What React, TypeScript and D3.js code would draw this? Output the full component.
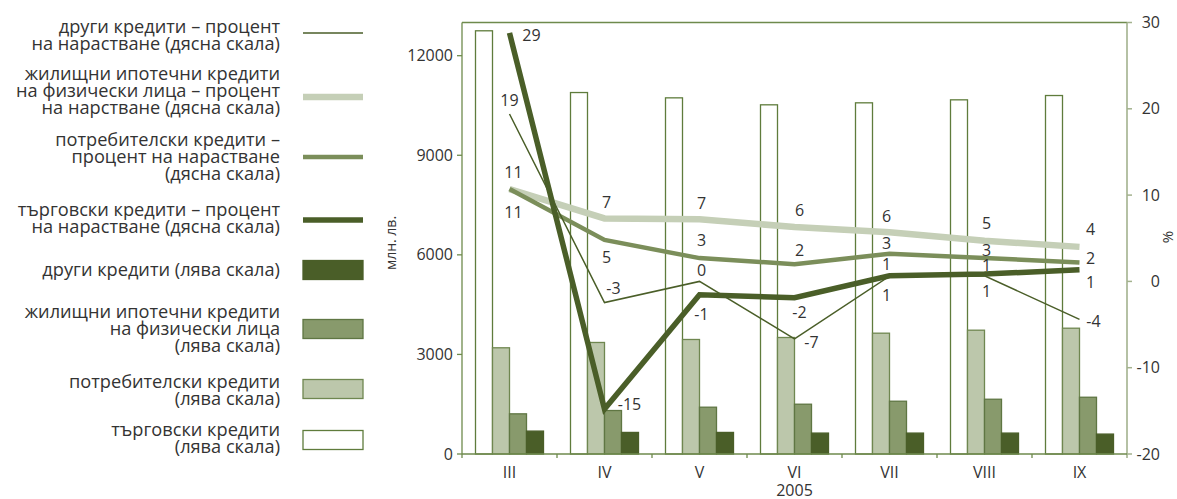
import React from "react";
import * as d3 from "d3";

const categories = ["III", "IV", "V", "VI", "VII", "VIII", "IX"];
const yearLabel = "2005";

// left scale, млн. лв.
const tradeLoans = [12750, 10890, 10730, 10520, 10580, 10670, 10800];
const consumerLoans = [3200, 3360, 3450, 3510, 3640, 3730, 3790];
const housingLoans = [1210, 1310, 1410, 1500, 1590, 1650, 1710];
const otherLoans = [690, 650, 650, 630, 630, 630, 600];

// right scale, %
const tradeGrowth = [28.8, -14.8, -1.55, -1.9, 0.65, 0.85, 1.35];
const consumerGrowth = [10.7, 4.8, 2.7, 2.0, 3.2, 2.7, 2.2];
const housingGrowth = [10.7, 7.3, 7.2, 6.3, 5.7, 4.7, 4.0];
const otherGrowth = [19.4, -2.45, 0.0, -6.65, 0.6, 0.65, -4.4];

const tradeGrowthLabels = ["29", "-15", "-1", "-2", "1", "1", "1"];
const consumerGrowthLabels = ["11", "5", "3", "2", "3", "3", "2"];
const housingGrowthLabels = ["11", "7", "7", "6", "6", "5", "4"];
const otherGrowthLabels = ["19", "-3", "0", "-7", "1", "1", "-4"];

const leftTicks = [0, 3000, 6000, 9000, 12000];
const rightTicks = [-20, -10, 0, 10, 20, 30];

const legendLineItems = [
  { lines: ["други кредити – процент", "на нарастване (дясна скала)"], key: "other" },
  { lines: ["жилищни ипотечни кредити", "на физически лица – процент", "на нарстване (дясна скала)"], key: "housing" },
  { lines: ["потребителски кредити –", "процент на нарастване", "(дясна скала)"], key: "consumer" },
  { lines: ["търговски кредити – процент", "на нарастване (дясна скала)"], key: "trade" },
];
const legendBarItems = [
  { lines: ["други кредити (лява скала)"], key: "other" },
  { lines: ["жилищни ипотечни кредити", "на физически лица", "(лява скала)"], key: "housing" },
  { lines: ["потребителски кредити", "(лява скала)"], key: "consumer" },
  { lines: ["търговски кредити", "(лява скала)"], key: "trade" },
];

// ---------- styling / layout ----------
const FONT = "'Open Sans', 'DejaVu Sans', sans-serif";
const TEXT = "#333333";
const AXIS = "#6e8a4c";
const AXIS_R = "#a3b28e";

const barStyle: Record<string, { fill: string; stroke: string }> = {
  trade: { fill: "#ffffff", stroke: "#5f7c3c" },
  consumer: { fill: "#bcc7ab", stroke: "#6f8750" },
  housing: { fill: "#889a6c", stroke: "#5f7643" },
  other: { fill: "#4a5e28", stroke: "#4a5e28" },
};
const lineStyle: Record<string, { stroke: string; width: number }> = {
  housing: { stroke: "#c5cfb7", width: 6.5 },
  consumer: { stroke: "#7b8e5a", width: 4.5 },
  trade: { stroke: "#4a5e28", width: 5.5 },
  other: { stroke: "#4a5e28", width: 1.5 },
};

// label offsets (dx, dy) relative to each point
const labelOffsets: Record<string, [number, number][]> = {
  housing: [[4, -17], [2, -16], [2, -16], [5, -17], [-3, -16], [2, -17], [11, -17]],
  consumer: [[4, 23], [2, 17], [2, -18], [5, -14], [-3, -10], [2, -8], [11, -4]],
  other: [[0, -14], [9, -14], [2, -11], [17, 4], [-3, -12], [2, -10], [14, 2]],
  trade: [[22, 3], [25, -5], [2, 20], [5, 15], [-3, 20], [2, 17], [11, 13]],
};

const plot = { left: 462, right: 1127, top: 22.5, bottom: 454 };

export default function App() {
  const x = d3.scaleBand<string>().domain(categories).range([plot.left, plot.right]);
  const bw = x.bandwidth();
  const barKeys = ["trade", "consumer", "housing", "other"];
  const xSub = d3.scaleBand<string>().domain(barKeys).range([13.5, bw - 13.5]);
  const yL = d3.scaleLinear().domain([0, 13000]).range([plot.bottom, plot.top]);
  const yR = d3.scaleLinear().domain([-20, 30]).range([plot.bottom, plot.top]);

  const barData: Record<string, number[]> = {
    trade: tradeLoans,
    consumer: consumerLoans,
    housing: housingLoans,
    other: otherLoans,
  };
  const lineData: Record<string, { values: number[]; labels: string[] }> = {
    housing: { values: housingGrowth, labels: housingGrowthLabels },
    consumer: { values: consumerGrowth, labels: consumerGrowthLabels },
    trade: { values: tradeGrowth, labels: tradeGrowthLabels },
    other: { values: otherGrowth, labels: otherGrowthLabels },
  };
  const lineOrder = ["housing", "consumer", "trade", "other"];

  const cx = (c: string) => (x(c) as number) + bw / 2;
  const lineGen = d3
    .line<number>()
    .x((_, i) => cx(categories[i]))
    .y((d) => yR(d));

  const legendTextX = 280;
  const swX0 = 303;
  const swX1 = 363;
  const lh = 17;
  const legendFont = 18.2;
  const lineLegendY = [33, 97, 157, 220];
  const lineLegendTextTop = [26.5, 73.5, 140, 209.5];
  const barLegendY = [270, 329, 389, 440];
  const barLegendTextTop = [270, 311.5, 381.5, 430];

  return (
    <svg
      width={1177}
      height={499}
      style={{ position: "absolute", left: 0, top: 0, background: "#fff" }}
      fontFamily={FONT}
    >
      {/* bars */}
      {categories.map((c, i) => (
        <g key={c}>
          {barKeys.map((k) => {
            const v = barData[k][i];
            const bx = (x(c) as number) + (xSub(k) as number);
            return (
              <rect
                key={k}
                x={bx}
                y={yL(v)}
                width={xSub.bandwidth()}
                height={plot.bottom - yL(v)}
                fill={barStyle[k].fill}
                stroke={barStyle[k].stroke}
                strokeWidth={1.3}
              />
            );
          })}
        </g>
      ))}

      {/* frame */}
      <line x1={plot.left} x2={plot.right} y1={plot.top} y2={plot.top} stroke={AXIS} strokeWidth={1.3} />
      <line x1={plot.left} x2={plot.left} y1={plot.top} y2={plot.bottom} stroke={AXIS} strokeWidth={1.3} />
      <line x1={plot.right} x2={plot.right} y1={plot.top} y2={plot.bottom + 4} stroke={AXIS_R} strokeWidth={1.6} />
      <line x1={plot.left} x2={plot.right} y1={plot.bottom} y2={plot.bottom} stroke={AXIS} strokeWidth={1.3} />

      {/* left ticks */}
      {leftTicks.map((t) => (
        <g key={t}>
          <line x1={plot.left - 5} x2={plot.left} y1={yL(t)} y2={yL(t)} stroke={AXIS} strokeWidth={1.3} />
          <text x={453} y={yL(t)} dy="0.35em" textAnchor="end" fontSize={16} fill={TEXT}>
            {t}
          </text>
        </g>
      ))}
      {/* right ticks */}
      {rightTicks.map((t) => (
        <g key={t}>
          <line x1={plot.right} x2={plot.right + 5} y1={yR(t)} y2={yR(t)} stroke={AXIS_R} strokeWidth={1.5} />
          <text x={1160} y={yR(t)} dy="0.35em" textAnchor="end" fontSize={16} fill={TEXT}>
            {t}
          </text>
        </g>
      ))}
      {/* bottom ticks */}
      {categories.map((c) => (
        <line key={c} x1={x(c)} x2={x(c)} y1={plot.bottom} y2={plot.bottom + 4} stroke={AXIS} strokeWidth={1.3} />
      ))}
      {categories.map((c) => (
        <text key={c} x={cx(c)} y={478} textAnchor="middle" fontSize={16} fill={TEXT}>
          {c}
        </text>
      ))}
      <text x={(plot.left + plot.right) / 2} y={496} textAnchor="middle" fontSize={16} fill={TEXT}>
        {yearLabel}
      </text>

      {/* axis titles */}
      <text transform="translate(396,243) rotate(-90)" textAnchor="middle" fontSize={14} fill={TEXT}>
        млн. лв.
      </text>
      <text transform="translate(1173,237) rotate(-90)" textAnchor="middle" fontSize={15} fill={TEXT}>
        %
      </text>

      {/* lines */}
      {lineOrder.map((k) => (
        <path
          key={k}
          d={lineGen(lineData[k].values) || ""}
          fill="none"
          stroke={lineStyle[k].stroke}
          strokeWidth={lineStyle[k].width}
          strokeLinejoin="miter"
        />
      ))}
      {/* data labels */}
      {lineOrder.map((k) =>
        lineData[k].values.map((v, i) => (
          <text
            key={k + i}
            x={cx(categories[i]) + labelOffsets[k][i][0]}
            y={yR(v) + labelOffsets[k][i][1]}
            dy="0.35em"
            textAnchor="middle"
            fontSize={16}
            fill={TEXT}
          >
            {lineData[k].labels[i]}
          </text>
        ))
      )}

      {/* legend: lines */}
      {legendLineItems.map((it, j) => (
        <g key={it.key}>
          {it.lines.map((ln, li) => (
            <text
              key={li}
              x={legendTextX}
              y={lineLegendTextTop[j] + li * lh}
              dy="0.33em"
              textAnchor="end"
              fontSize={legendFont}
              fill={TEXT}
            >
              {ln}
            </text>
          ))}
          <line
            x1={swX0}
            x2={swX1}
            y1={lineLegendY[j]}
            y2={lineLegendY[j]}
            stroke={lineStyle[it.key].stroke}
            strokeWidth={lineStyle[it.key].width}
          />
        </g>
      ))}
      {/* legend: bars */}
      {legendBarItems.map((it, j) => (
        <g key={it.key}>
          {it.lines.map((ln, li) => (
            <text
              key={li}
              x={legendTextX}
              y={barLegendTextTop[j] + li * lh}
              dy="0.33em"
              textAnchor="end"
              fontSize={legendFont}
              fill={TEXT}
            >
              {ln}
            </text>
          ))}
          <rect
            x={swX0}
            y={barLegendY[j] - 9.5}
            width={swX1 - swX0}
            height={19}
            fill={barStyle[it.key].fill}
            stroke={barStyle[it.key].stroke}
            strokeWidth={1.3}
          />
        </g>
      ))}
    </svg>
  );
}
